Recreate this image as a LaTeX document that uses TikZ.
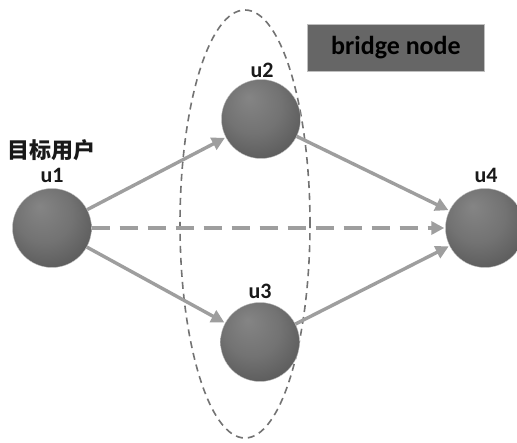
\documentclass[tikz,border=0pt]{standalone}
\usepackage{fontspec}
\setmainfont{Carlito}
\newfontfamily\cjk{Noto Sans CJK SC}
\usetikzlibrary{arrows.meta,shapes.geometric}
\pgfdeclareradialshading{sphere}{\pgfpoint{-8bp}{14bp}}{%
  color(0bp)=(black!48); color(18bp)=(black!55); color(38bp)=(black!68); color(50bp)=(black!72)}
\tikzset{
  user/.style={circle, minimum size=79pt, inner sep=0pt, shading=sphere, draw=black!25, line width=0.4pt},
  lbl/.style={font=\fontsize{22}{24}\selectfont\bfseries, text=black!90, inner sep=0pt},
  link/.style={draw=black!38, line width=3.4pt, -{Triangle[length=13pt,width=13pt]}, shorten >=1pt},
}
\begin{document}
\begin{tikzpicture}[x=1pt, y=-1pt]
  \useasboundingbox (0,0) rectangle (517,443);
  \fill[white] (0,0) rectangle (517,443);

  % bridge group
  \node[ellipse, draw=black!55, dashed, dash pattern=on 7pt off 5pt, line width=1.6pt,
        minimum width=130pt, minimum height=428pt, inner sep=0pt] (grp) at (245,224) {};
  \node[fill=black!60, draw=black!25, minimum width=177pt, minimum height=47pt, inner sep=0pt,
        font=\fontsize{26}{28}\selectfont\bfseries, text=black] (tag) at (396,48) {bridge node};

  % users
  \node[user] (u1) at (52,228) {};
  \node[user] (u2) at (261,119) {};
  \node[user] (u3) at (260,342) {};
  \node[user] (u4) at (485,228) {};

  \node[lbl] (t1) at (52,150) {\cjk 目标用户};
  \node[lbl] (l1) at (52,175) {u1};
  \node[lbl] (l2) at (262,70) {u2};
  \node[lbl] (l3) at (260,291) {u3};
  \node[lbl] (l4) at (486,175) {u4};

  % links
  \draw[link] (u1) -- (u2);
  \draw[link] (u1) -- (u3);
  \draw[link] (u2) -- (u4);
  \draw[link] (u3) -- (u4);
  \draw[link, dash pattern=on 18pt off 10pt] (u1.east) -- (u4.west);
\end{tikzpicture}
\end{document}
